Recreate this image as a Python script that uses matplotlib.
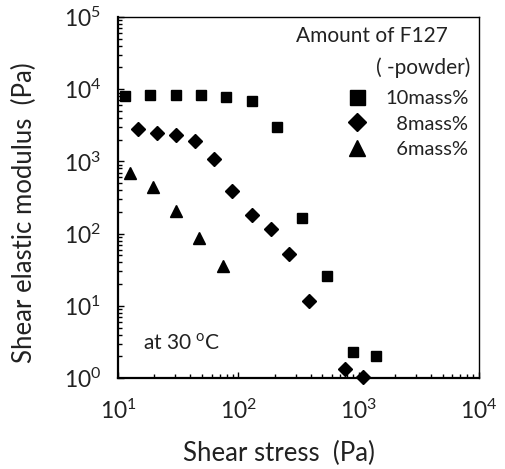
import matplotlib
matplotlib.use("Agg")
import matplotlib.pyplot as plt
from matplotlib.lines import Line2D

plt.rcParams['font.family'] = ['Lato', 'DejaVu Sans']
plt.rcParams['mathtext.fontset'] = 'custom'
plt.rcParams['mathtext.rm'] = 'Lato'

# 10mass% (squares)
stress_10 = [11.4, 18.5, 30.3, 48.9, 79, 129, 211, 341, 550, 893, 1396]
modulus_10 = [8100, 8200, 8300, 8200, 7800, 6900, 3000, 165, 26, 2.27, 2.0]

# 8mass% (diamonds)
stress_8 = [14.6, 21, 30.2, 43.7, 62.8, 89, 129, 186, 266, 384, 776, 1081]
modulus_8 = [2780, 2500, 2340, 1900, 1070, 389, 183, 115, 53, 11.5, 1.35, 1.04]

# 6mass% (triangles)
stress_6 = [12.6, 19.4, 30.3, 47.4, 74]
modulus_6 = [684, 447, 204, 88, 35.6]

labels = ['10mass%', '  8mass%', '  6mass%']
text_color = '#222222'

fig = plt.figure(figsize=(5.05, 4.69), dpi=100)
ax = fig.add_axes([118 / 505, 1 - 378 / 469, 361 / 505, 361 / 469])

ax.plot(stress_10, modulus_10, 's', color='black', markersize=7.9, clip_on=False)
ax.plot(stress_8, modulus_8, 'D', color='black', markersize=7.1, clip_on=False)
ax.plot(stress_6, modulus_6, '^', color='black', markersize=8.5, clip_on=False)

ax.set_xscale('log')
ax.set_yscale('log')
ax.set_xlim(10, 1e4)
ax.set_ylim(1, 1e5)

ax.tick_params(which='both', direction='in', top=False, right=False,
               labelsize=16.5, width=1, color='black', labelcolor=text_color)
ax.tick_params(which='major', length=4)
ax.tick_params(which='minor', length=3)
ax.tick_params(axis='x', pad=15)
ax.tick_params(axis='y', pad=12)
for side in ['left', 'bottom']:
    ax.spines[side].set_linewidth(1.6)
for side in ['top', 'right']:
    ax.spines[side].set_linewidth(1.0)

ax.set_xlabel('Shear stress  (Pa)', fontsize=18.5, color=text_color, va='center')
ax.set_ylabel('Shear elastic modulus  (Pa)', fontsize=18.5, color=text_color, va='center')
ax.xaxis.set_label_coords(0.445, -0.208)
ax.yaxis.set_label_coords(-0.258, 0.457)

ax.text(0.069, 0.097, 'at 30 $^{\\mathregular{o}}$C', transform=ax.transAxes,
        fontsize=15, va='center', ha='left', color=text_color)

ax.text(0.914, 0.946, 'Amount of F127', transform=ax.transAxes,
        fontsize=15, ha='right', va='center', color=text_color)
ax.text(0.975, 0.859, '( -powder)', transform=ax.transAxes,
        fontsize=15, ha='right', va='center', color=text_color)

handles = [Line2D([], [], marker='s', ls='', color='black', markersize=10.8),
           Line2D([], [], marker='D', ls='', color='black', markersize=9.2),
           Line2D([], [], marker='^', ls='', color='black', markersize=12.2)]
ax.legend(handles, labels, loc='upper right', bbox_to_anchor=(1.0, 0.826),
          frameon=False, fontsize=14.5, handlelength=1.0, handletextpad=0.9,
          labelspacing=0.42, borderaxespad=0.1, labelcolor=text_color)

fig.savefig('out.png', dpi=100)
